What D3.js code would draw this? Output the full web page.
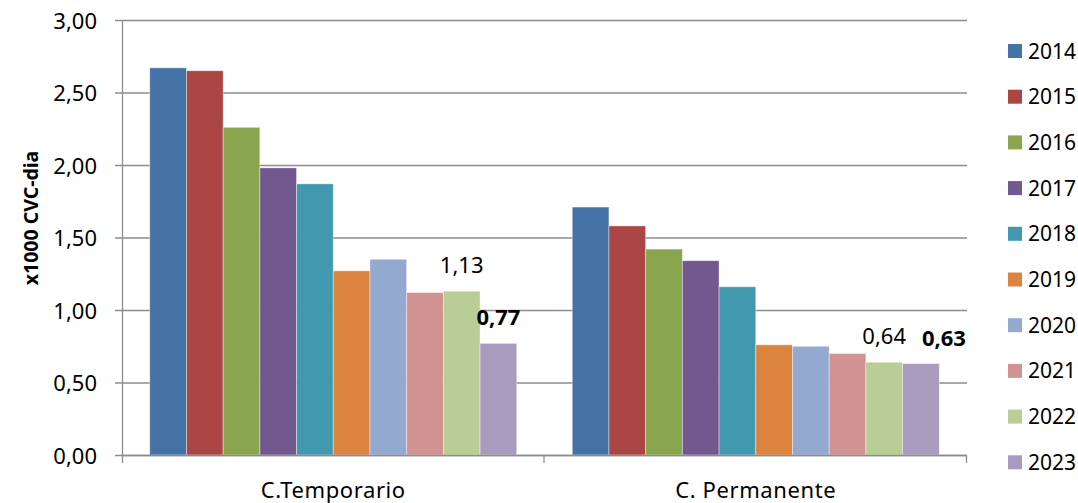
<html>
<head>
  <script src="https://d3js.org/d3.v7.min.js"></script>
  <style>
    body { margin: 0; background: #fff; }
    text { font-family: "Noto Sans", "Open Sans", sans-serif; fill: #000; }
  </style>
</head>
<body>
  <div id="chart"></div>
  <script>
    const categories = ["C.Temporario", "C. Permanente"];
    const years = ["2014", "2015", "2016", "2017", "2018", "2019", "2020", "2021", "2022", "2023"];
    const temporario = [2.67, 2.65, 2.26, 1.98, 1.87, 1.27, 1.35, 1.12, 1.13, 0.77];
    const permanente = [1.71, 1.58, 1.42, 1.34, 1.16, 0.76, 0.75, 0.70, 0.64, 0.63];
    const colors = ["#4572A7", "#AA4643", "#89A54E", "#71588F", "#4198AF",
                    "#DB843D", "#93A9CF", "#D19392", "#B9CD96", "#A99BBD"];
    const yTicks = [0, 0.5, 1, 1.5, 2, 2.5, 3];
    // labelled bars: [category index, year index, bold]
    const labelled = [[0, 8, false], [0, 9, true], [1, 8, false], [1, 9, true]];

    const w = 1078, h = 503;
    const mLeft = 122, mRight = 967, mTop = 20, mBottom = 455;
    const series = [temporario, permanente];
    const fmt = v => d3.format(".2f")(v).replace(".", ",");
    const grid = "#8c8c8c";

    const svg = d3.select("#chart").append("svg")
      .attr("width", w).attr("height", h);

    const x0 = d3.scaleBand().domain(categories).range([mLeft, mRight]);
    const x1 = d3.scaleBand().domain(years).range([0, x0.bandwidth()])
      .paddingInner(0).paddingOuter(0.756);
    const y = d3.scaleLinear().domain([0, 3]).range([mBottom, mTop]);

    // grid
    svg.append("g").selectAll("line").data(yTicks).enter().append("line")
      .attr("x1", mLeft - 7).attr("x2", mRight)
      .attr("y1", d => y(d) + 0.5).attr("y2", d => y(d) + 0.5)
      .attr("stroke", grid).attr("stroke-width", 1.3);

    // bars
    const groups = svg.append("g").selectAll("g").data(categories).enter().append("g")
      .attr("transform", d => "translate(" + x0(d) + ",0)");
    groups.selectAll("rect")
      .data((d, i) => series[i].map((v, j) => ({ v: v, j: j })))
      .enter().append("rect")
      .attr("x", d => x1(years[d.j]))
      .attr("width", x1.bandwidth())
      .attr("y", d => y(d.v))
      .attr("height", d => y(0) - y(d.v))
      .attr("fill", d => colors[d.j])
      .attr("stroke", "#ffffff").attr("stroke-opacity", 0.5).attr("stroke-width", 0.8);

    // axis lines
    svg.append("line").attr("x1", mLeft + 0.5).attr("x2", mLeft + 0.5)
      .attr("y1", mTop).attr("y2", mBottom + 8).attr("stroke", grid).attr("stroke-width", 1.3);
    svg.append("line").attr("x1", mLeft).attr("x2", mRight)
      .attr("y1", mBottom + 0.5).attr("y2", mBottom + 0.5).attr("stroke", grid).attr("stroke-width", 1.3);
    svg.append("g").selectAll("line").data([x0.range()[0] + x0.step(), mRight]).enter().append("line")
      .attr("x1", d => d - 0.5).attr("x2", d => d - 0.5)
      .attr("y1", mBottom).attr("y2", mBottom + 8)
      .attr("stroke", grid).attr("stroke-width", 1.3);

    // y tick labels
    svg.append("g").selectAll("text").data(yTicks).enter().append("text")
      .attr("x", 97).attr("y", d => y(d) + 8.5)
      .attr("text-anchor", "end").style("font-size", "22px")
      .text(d => fmt(d));

    // y title
    svg.append("text")
      .attr("transform", "translate(38,218) rotate(-90)")
      .attr("text-anchor", "middle").style("font-size", "19.5px").style("font-weight", "bold")
      .text("x1000 CVC-dia");

    // category labels
    svg.append("g").selectAll("text").data(categories).enter().append("text")
      .attr("x", d => x0(d) + x0.bandwidth() / 2).attr("y", 498)
      .attr("text-anchor", "middle").style("font-size", "22px")
      .style("letter-spacing", "0.6px")
      .text(d => d);

    // value labels (last one sits a little to the right, as in the source)
    svg.append("g").selectAll("text").data(labelled).enter().append("text")
      .attr("x", d => x0(categories[d[0]]) + x1(years[d[1]]) + x1.bandwidth() / 2)
      .attr("dx", (d, i) => i === labelled.length - 1 ? 23 : 0)
      .attr("y", d => y(series[d[0]][d[1]]) - 18)
      .attr("text-anchor", "middle").style("font-size", "22px")
      .style("font-weight", d => d[2] ? "bold" : "normal")
      .text(d => fmt(series[d[0]][d[1]]));

    // legend
    const legend = svg.append("g").selectAll("g").data(years).enter().append("g")
      .attr("transform", (d, i) => "translate(1008," + (51 + i * 45.7) + ")");
    legend.append("rect").attr("x", 0).attr("y", -7).attr("width", 14).attr("height", 14)
      .attr("fill", (d, i) => colors[i]);
    legend.append("text").attr("x", 20).attr("y", 7.5).style("font-size", "21px")
      .text(d => d);
  </script>
</body>
</html>
